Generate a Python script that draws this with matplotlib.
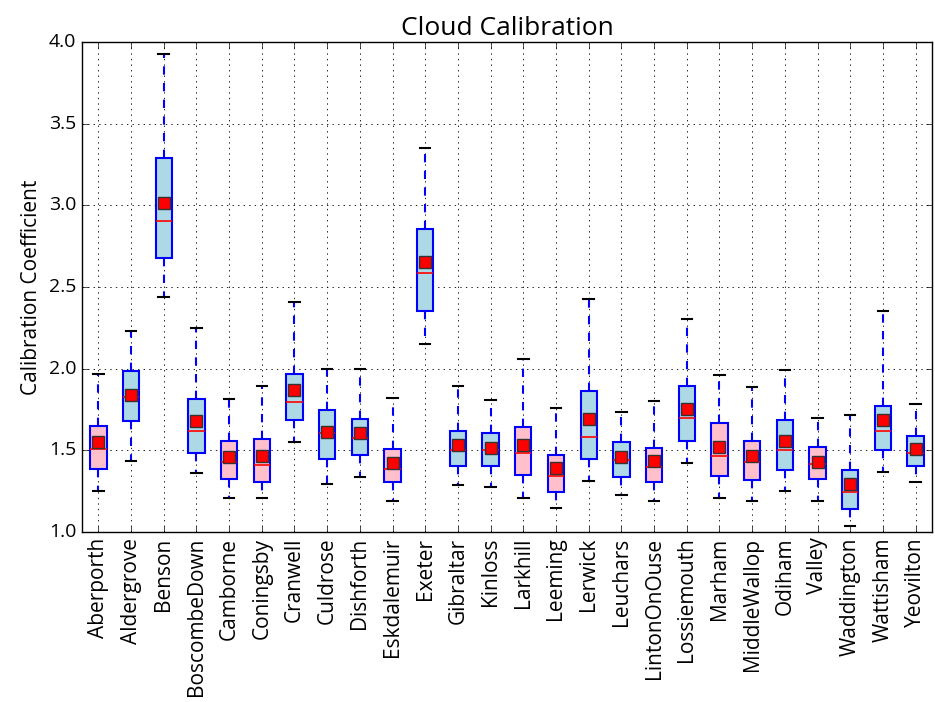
import matplotlib
matplotlib.use("Agg")
import matplotlib.pyplot as plt

plt.style.use("classic")
plt.rcParams["font.family"] = ["Open Sans", "DejaVu Sans"]

# Station names (x categories)
stations = ["Aberporth", "Aldergrove", "Benson", "BoscombeDown", "Camborne",
            "Coningsby", "Cranwell", "Culdrose", "Dishforth", "Eskdalemuir",
            "Exeter", "Gibraltar", "Kinloss", "Larkhill", "Leeming", "Lerwick",
            "Leuchars", "LintonOnOuse", "Lossiemouth", "Marham", "MiddleWallop",
            "Odiham", "Valley", "Waddington", "Wattisham", "Yeovilton"]

# Box statistics
whislo = [1.25, 1.435, 2.44, 1.36, 1.21, 1.205, 1.553, 1.292, 1.337, 1.19,
          2.149, 1.286, 1.278, 1.21, 1.149, 1.314, 1.225, 1.19, 1.422, 1.21,
          1.19, 1.249, 1.19, 1.039, 1.367, 1.308]
q1 = [1.388, 1.677, 2.677, 1.486, 1.323, 1.306, 1.686, 1.447, 1.47, 1.306,
      2.351, 1.404, 1.404, 1.351, 1.247, 1.447, 1.335, 1.306, 1.557, 1.345,
      1.318, 1.381, 1.323, 1.143, 1.5, 1.404]
med = [1.508, 1.829, 2.904, 1.62, 1.427, 1.412, 1.798, 1.606, 1.574, 1.388,
       2.588, 1.5, 1.5, 1.486, 1.345, 1.584, 1.439, 1.396, 1.696, 1.463,
       1.427, 1.5, 1.418, 1.243, 1.62, 1.486]
q3 = [1.651, 1.986, 3.292, 1.814, 1.559, 1.567, 1.969, 1.745, 1.694, 1.506,
      2.857, 1.618, 1.604, 1.643, 1.471, 1.865, 1.553, 1.516, 1.894, 1.669,
      1.559, 1.684, 1.522, 1.38, 1.773, 1.59]
whishi = [1.969, 2.233, 3.927, 2.247, 1.814, 1.896, 2.41, 2.0, 2.0, 1.822,
          3.351, 1.894, 1.806, 2.057, 1.759, 2.425, 1.737, 1.802, 2.306, 1.963,
          1.888, 1.994, 1.698, 1.716, 2.351, 1.786]
mean = [1.553, 1.837, 3.016, 1.681, 1.457, 1.465, 1.868, 1.614, 1.606, 1.424,
        2.651, 1.535, 1.516, 1.533, 1.39, 1.692, 1.457, 1.433, 1.753, 1.522,
        1.463, 1.555, 1.427, 1.294, 1.686, 1.51]
box_colors = ["pink", "lightblue", "lightblue", "lightblue", "pink",
              "pink", "lightblue", "lightblue", "lightblue", "pink",
              "lightblue", "lightblue", "lightblue", "pink", "pink", "lightblue",
              "lightblue", "pink", "lightblue", "pink", "pink",
              "lightblue", "pink", "lightblue", "lightblue", "lightblue"]

stats = []
for i in range(len(stations)):
    stats.append({"label": stations[i], "whislo": whislo[i], "q1": q1[i],
                  "med": med[i], "q3": q3[i], "whishi": whishi[i],
                  "mean": mean[i], "fliers": []})

fig = plt.figure(figsize=(9.35, 7.02), dpi=100, facecolor="white")
ax = fig.add_axes([0.0877, 0.2422, 0.909, 0.698])

bp = ax.bxp(stats, showmeans=True, patch_artist=True, widths=0.5,
            capwidths=0.32,
            boxprops=dict(edgecolor="blue", linewidth=1.5),
            whiskerprops=dict(color="blue", linestyle="--", linewidth=1.5),
            capprops=dict(color="black", linewidth=1.5),
            medianprops=dict(color="red", linewidth=1.2),
            meanprops=dict(marker="s", markerfacecolor="red",
                           markeredgecolor="#333333", markeredgewidth=1.0,
                           markersize=8))
for patch, c in zip(bp["boxes"], box_colors):
    patch.set_facecolor(c)

ax.set_ylim(1.0, 4.0)
ax.set_xlim(0.5, len(stations) + 0.5)
ax.set_xticklabels(stations, rotation=90, fontsize=15)
ax.tick_params(axis="y", labelsize=14)
ax.grid(True, color="black", linestyle=":", linewidth=0.6)
ax.set_axisbelow(True)
ax.set_ylabel("Calibration Coefficient", fontsize=15)
ax.set_title("Cloud Calibration", fontsize=19)

plt.savefig("out.png", dpi=100, facecolor="white")
